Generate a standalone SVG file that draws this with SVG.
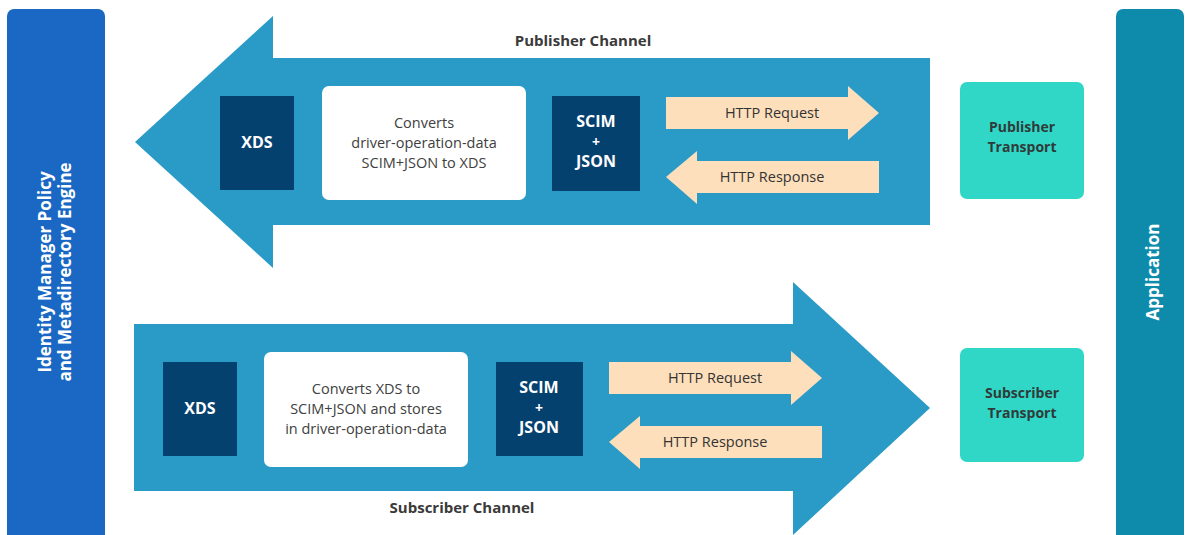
<svg xmlns="http://www.w3.org/2000/svg" width="1186" height="535" viewBox="0 0 1186 535">
<style>
.t{font-family:"Open Sans","Noto Sans","Liberation Sans",sans-serif}
.lbl{font-size:15px;font-weight:bold;fill:#3a3a3a;text-anchor:middle}
.dk{fill:#05416F}
.dkt{font-size:16px;font-weight:bold;fill:#fff;text-anchor:middle}
.sm{font-size:14px}
.wb{fill:#fff}
.wbt{font-size:14.5px;fill:#404040;text-anchor:middle}
.big{fill:#2A9BC7}
.http{fill:#FDDFBC}
.httpt{font-size:14.5px;fill:#333;text-anchor:middle}
.tr{fill:#31D7C6}
.trt{font-size:14px;font-weight:bold;fill:#2f3b3a;text-anchor:middle}
.vt{font-size:17px;font-weight:bold;fill:#fff;text-anchor:middle}
</style>
<rect width="1186" height="535" fill="#fff"/>
<g id="engine">
<rect x="7" y="9" width="98" height="540" rx="7" fill="#1A68C3"/>
<text class="t vt" transform="translate(55,272) rotate(-90)"><tspan x="0" y="-4">Identity Manager Policy</tspan><tspan x="0" y="16">and Metadirectory Engine</tspan></text>
</g>
<g id="application">
<rect x="1116" y="9" width="68" height="540" rx="7" fill="#0E8AAA"/>
<text class="t vt" transform="translate(1159,272) rotate(-90)" x="0" y="0">Application</text>
</g>
<g id="publisher-channel">
<polygon class="big" points="930,58 273,58 273,16 135,142 273,268 273,225 930,225"/>
<text class="t lbl" x="583" y="46">Publisher Channel</text>
</g>
<g id="subscriber-channel">
<polygon class="big" points="134,324 793,324 793,282 930,408 793,535 793,491 134,491"/>
<text class="t lbl" x="462" y="513">Subscriber Channel</text>
</g>
<g id="pub-xds">
<rect class="dk" x="220" y="96" width="74" height="94"/>
<text class="t dkt" x="257" y="148">XDS</text>
</g>
<g id="pub-convert">
<rect class="wb" x="322" y="86" width="204" height="114" rx="7"/>
<text class="t wbt"><tspan x="424" y="128">Converts</tspan><tspan x="424" y="148">driver-operation-data</tspan><tspan x="424" y="168">SCIM+JSON to XDS</tspan></text>
</g>
<g id="pub-scim">
<rect class="dk" x="552" y="96" width="88" height="95"/>
<text class="t dkt"><tspan x="596" y="127">SCIM</tspan><tspan class="sm" x="596" y="147">+</tspan><tspan x="596" y="167">JSON</tspan></text>
</g>
<g id="pub-transport">
<rect class="tr" x="960" y="82" width="124" height="117" rx="7"/>
<text class="t trt"><tspan x="1022" y="132">Publisher</tspan><tspan x="1022" y="152">Transport</tspan></text>
</g>
<g id="sub-xds">
<rect class="dk" x="163" y="362" width="74" height="94"/>
<text class="t dkt" x="200" y="414">XDS</text>
</g>
<g id="sub-convert">
<rect class="wb" x="264" y="352" width="204" height="115" rx="7"/>
<text class="t wbt"><tspan x="366" y="394">Converts XDS to</tspan><tspan x="366" y="414">SCIM+JSON and stores</tspan><tspan x="366" y="434">in driver-operation-data</tspan></text>
</g>
<g id="sub-scim">
<rect class="dk" x="496" y="362" width="87" height="94"/>
<text class="t dkt"><tspan x="539" y="393">SCIM</tspan><tspan class="sm" x="539" y="413">+</tspan><tspan x="539" y="433">JSON</tspan></text>
</g>
<g id="sub-transport">
<rect class="tr" x="960" y="348" width="124" height="114" rx="7"/>
<text class="t trt"><tspan x="1022" y="398">Subscriber</tspan><tspan x="1022" y="418">Transport</tspan></text>
</g>
<g id="connectors">
<g id="pub-http-request">
<polygon class="http" points="666,97 848,97 848,86 879,113 848,140 848,129 666,129"/>
<text class="t httpt" x="772" y="118">HTTP Request</text>
</g>
<g id="pub-http-response">
<polygon class="http" points="666,177 697,151 697,161 879,161 879,193 697,193 697,204"/>
<text class="t httpt" x="772" y="182">HTTP Response</text>
</g>
<g id="sub-http-request">
<polygon class="http" points="609,362 791,362 791,351 822,378 791,405 791,394 609,394"/>
<text class="t httpt" x="715" y="383">HTTP Request</text>
</g>
<g id="sub-http-response">
<polygon class="http" points="609,442 640,416 640,426 822,426 822,458 640,458 640,469"/>
<text class="t httpt" x="715" y="447">HTTP Response</text>
</g>
</g>
</svg>
